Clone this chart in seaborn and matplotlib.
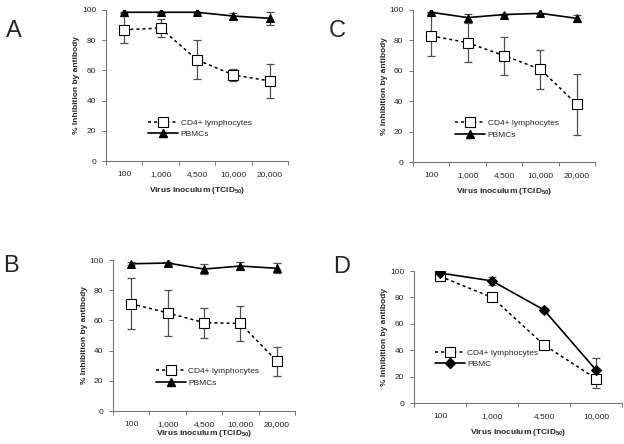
import numpy as np
import seaborn as sns
import matplotlib.pyplot as plt
from matplotlib.lines import Line2D

# Dose categories
doses_5 = ['100', '1,000', '4,500', '10,000', '20,000']
doses_4 = ['100', '1,000', '4,500', '10,000']

# Panel A
a_cd4 = [87, 88, 67, 57, 53]
a_cd4_err = [9, 6, 13, 4, 11.5]
a_pbmc = [98.5, 98.5, 98.5, 96, 94.5]
a_pbmc_err = [0.5, 0.5, 0.5, 2, 4.5]

# Panel B
b_cd4 = [71, 65, 58.5, 58, 33]
b_cd4_err = [17, 15, 10, 11.5, 9.5]
b_pbmc = [97.5, 98, 94, 96, 94.5]
b_pbmc_err = [1, 1, 3.3, 2.7, 3.3]

# Panel C
c_cd4 = [83, 78.5, 70, 61, 38]
c_cd4_err = [13.5, 13, 12.5, 13, 20]
c_pbmc = [98.5, 95, 97, 97.8, 94.5]
c_pbmc_err = [0.5, 2.5, 0.5, 0.5, 2.5]

# Panel D
d_cd4 = [96, 80, 44, 18.5]
d_cd4_err = [0.5, 0.5, 0.5, 7]
d_pbmc = [98.5, 92.5, 70.5, 25]
d_pbmc_err = [0.5, 3, 1.5, 9]

sns.set_style('white')
plt.rcParams['font.family'] = ['Liberation Sans', 'DejaVu Sans']
plt.rcParams['mathtext.fontset'] = 'custom'
plt.rcParams['mathtext.rm'] = 'Liberation Sans'
plt.rcParams['mathtext.bf'] = 'Liberation Sans:bold'

fs = 6.0
W, H = 624, 444
fig = plt.figure(figsize=(W / 100, H / 100), dpi=100)


def panel(px, letter, letter_xy, doses, cd4, cd4_err, pbmc, pbmc_err,
          pbmc_label, pbmc_marker, pbmc_ms, leg_anchor, xlab_off):
    # px = (left, top, right, bottom) of the axes in pixels
    l, t, r, b = px
    ax = fig.add_axes([l / W, 1 - b / H, (r - l) / W, (b - t) / H])
    x = np.arange(len(doses))
    ax.errorbar(x, cd4, yerr=cd4_err, fmt='none', ecolor='#505050',
                elinewidth=0.9, capsize=2.6, capthick=0.9, zorder=1)
    ax.errorbar(x, pbmc, yerr=pbmc_err, fmt='none', ecolor='#505050',
                elinewidth=0.9, capsize=2.6, capthick=0.9, zorder=1)
    sns.lineplot(x=x, y=cd4, ax=ax, color='black', linestyle=(0, (2, 2)),
                 linewidth=1.1, marker='s', markersize=6.5, markerfacecolor='white',
                 markeredgecolor='black', markeredgewidth=0.8, zorder=3)
    sns.lineplot(x=x, y=pbmc, ax=ax, color='black', linestyle='-',
                 linewidth=1.2, marker=pbmc_marker, markersize=pbmc_ms,
                 markerfacecolor='black', markeredgecolor='black', zorder=4)

    ax.set_xlim(-0.5, len(doses) - 0.5)
    ax.set_ylim(0, 100)
    ax.set_yticks([0, 20, 40, 60, 80, 100])
    ax.set_xticks(x)
    ax.set_xticklabels(doses, fontsize=fs)
    ax.set_xticks(np.arange(-0.5, len(doses)), minor=True)
    ax.tick_params(axis='x', which='major', length=0, pad=7)
    ax.tick_params(axis='x', which='minor', length=3, width=0.7,
                   color='#777777', direction='out', bottom=True)
    ax.tick_params(axis='y', length=3, width=0.7, color='#777777',
                   direction='out', left=True, labelsize=fs, pad=4)
    sns.despine(ax=ax)
    for s in ['left', 'bottom']:
        ax.spines[s].set_color('#777777')
        ax.spines[s].set_linewidth(0.8)

    ax.set_xlabel(r'Virus inoculum (TCID$\mathbf{_{50}}$)', fontsize=fs,
                  fontweight='bold')
    ax.set_ylabel('% Inhibition by antibody', fontsize=fs,
                  fontweight='bold')
    ax.xaxis.set_label_coords(0.5, -xlab_off / (b - t))
    ax.xaxis.label.set_verticalalignment('center')
    ax.yaxis.set_label_coords(-29 / (r - l), 0.5)
    ax.yaxis.label.set_verticalalignment('center')

    handles = [
        Line2D([], [], color='black', linestyle=(0, (2, 2)), linewidth=1.1,
               marker='s', markersize=6.5, markerfacecolor='white',
               markeredgecolor='black', markeredgewidth=0.8),
        Line2D([], [], color='black', linestyle='-', linewidth=1.2,
               marker=pbmc_marker, markersize=pbmc_ms,
               markerfacecolor='black', markeredgecolor='black'),
    ]
    ax.legend(handles, ['CD4+ lymphocytes', pbmc_label], loc='upper left',
              bbox_to_anchor=leg_anchor, frameon=False, fontsize=fs,
              handlelength=3.6, handletextpad=0.3, labelspacing=0.45,
              borderpad=0, borderaxespad=0, numpoints=1)

    fig.text(letter_xy[0] / W, 1 - letter_xy[1] / H, letter, fontsize=17,
             ha='left', va='center')
    return ax


panel((106, 10, 288, 161), 'A', (6, 31),
      doses_5, a_cd4, a_cd4_err, a_pbmc, a_pbmc_err, 'PBMCs', '^', 6, (0.232, 0.28), 29)
panel((413, 10, 595, 162), 'C', (329, 31),
      doses_5, c_cd4, c_cd4_err, c_pbmc, c_pbmc_err, 'PBMCs', '^', 6, (0.232, 0.28), 29)
panel((113, 260, 295, 411), 'B', (3, 266),
      doses_5, b_cd4, b_cd4_err, b_pbmc, b_pbmc_err, 'PBMCs', '^', 6, (0.236, 0.29), 22)
panel((414, 271, 622, 403), 'D', (333, 267),
      doses_4, d_cd4, d_cd4_err, d_pbmc, d_pbmc_err, 'PBMC', 'D', 4.8, (0.10, 0.41), 29)

fig.savefig('out.png', dpi=100)
plt.close(fig)
print('Saved out.png')
